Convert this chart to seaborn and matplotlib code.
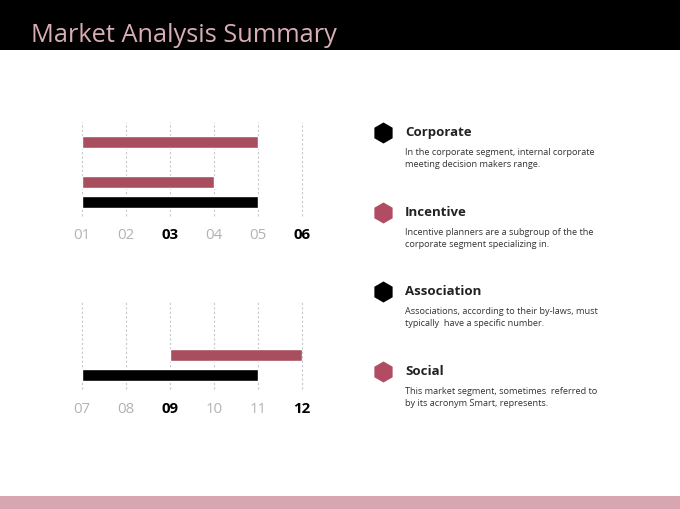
import matplotlib
matplotlib.use("Agg")
import matplotlib.pyplot as plt
import seaborn as sns
import pandas as pd
from matplotlib.patches import Rectangle

sns.set_theme(style="white")
plt.rcParams["font.family"] = ["Open Sans", "DejaVu Sans"]

RED = "#a84e5e"
BLACK = "#000000"
PINK = "#b24c63"

# chart data
top_ticks = ["01", "02", "03", "04", "05", "06"]
top_start = [1, 1, 1]
top_end = [5, 4, 5]
top_rows = [0, 2, 3]
top_colors = [RED, RED, BLACK]

bottom_ticks = ["07", "08", "09", "10", "11", "12"]
bottom_start = [3, 1]
bottom_end = [6, 5]
bottom_rows = [0, 1]
bottom_colors = [RED, BLACK]

bold_ticks = ["03", "06", "09", "12"]

# legend / notes
note_titles = ["Corporate", "Incentive", "Association", "Social"]
note_lines = [
    ["In the corporate segment, internal corporate", "meeting decision makers range."],
    ["Incentive planners are a subgroup of the the", "corporate segment specializing in."],
    ["Associations, according to their by-laws, must", "typically  have a specific number."],
    ["This market segment, sometimes  referred to", "by its acronym Smart, represents."],
]
note_colors = [BLACK, PINK, BLACK, PINK]
note_y = [134, 214, 293, 373]

W, H = 680, 510


def box(l, t, r, b):
    return [l / W, 1 - b / H, (r - l) / W, (b - t) / H]


fig = plt.figure(figsize=(6.8, 5.1), dpi=100)
fig.patch.set_facecolor("white")

# header and footer bands
fig.patches.append(Rectangle((0, 1 - 51 / H), 1, 51 / H, transform=fig.transFigure,
                             facecolor="black", edgecolor="none", zorder=0))
fig.patches.append(Rectangle((0, 0), 1, 13 / H, transform=fig.transFigure,
                             facecolor="#d8a6b0", edgecolor="none", zorder=0))
fig.text(31 / W, 1 - 35 / H, "Market Analysis Summary", color="#d9adb5",
         fontsize=18.3, va="center", ha="left")


def range_chart(rect, ticks, starts, ends, rows, colors, ylim, label_pad):
    ax = fig.add_axes(rect)
    df = pd.DataFrame({"row": rows, "start": starts, "end": ends})
    ax.barh(df["row"], df["end"] - df["start"], left=df["start"], height=0.6,
            color=colors, zorder=3)
    ax.set_xlim(1, 6)
    ax.set_ylim(*ylim)
    ax.set_yticks([])
    ax.set_xticks(range(1, 7))
    ax.set_xticklabels(ticks)
    for x in range(1, 7):
        ax.axvline(x, color="#c8c8c8", lw=0.8, ls=(0, (2, 2)), zorder=1,
                   clip_on=False)
    for lab in ax.get_xticklabels():
        if lab.get_text() in bold_ticks:
            lab.set_color("black")
            lab.set_fontweight("bold")
        else:
            lab.set_color("#b3b3b3")
        lab.set_fontsize(10.8)
    ax.tick_params(axis="x", length=0, pad=label_pad)
    for s in ax.spines.values():
        s.set_visible(False)
    ax.patch.set_alpha(0)
    return ax


range_chart(box(82, 123, 302, 217), top_ticks, top_start, top_end, top_rows,
            top_colors, (3.7, -1.0), 8)
range_chart(box(82, 302, 302, 390), bottom_ticks, bottom_start, bottom_end,
            bottom_rows, bottom_colors, (1.7, -2.7), 9)

# notes panel on the right
ov = fig.add_axes([0, 0, 1, 1])
ov.set_xlim(0, W)
ov.set_ylim(H, 0)
ov.axis("off")
ov.patch.set_alpha(0)
marks = pd.DataFrame({"x": [383.5] * 4, "y": note_y, "name": note_titles})
sns.scatterplot(data=marks, x="x", y="y", hue="name", palette=note_colors,
                marker="h", s=230, linewidth=0, legend=False, ax=ov)
for title, lines, y in zip(note_titles, note_lines, note_y):
    ov.text(405, y - 1, title, fontsize=9.5, fontweight="bold", color="#222222",
            va="center", ha="left")
    for k, line in enumerate(lines):
        ov.text(405, y + 19 + 12 * k, line, fontsize=6.6, color="#333333",
                va="center", ha="left")

fig.savefig("out.png", dpi=100)
